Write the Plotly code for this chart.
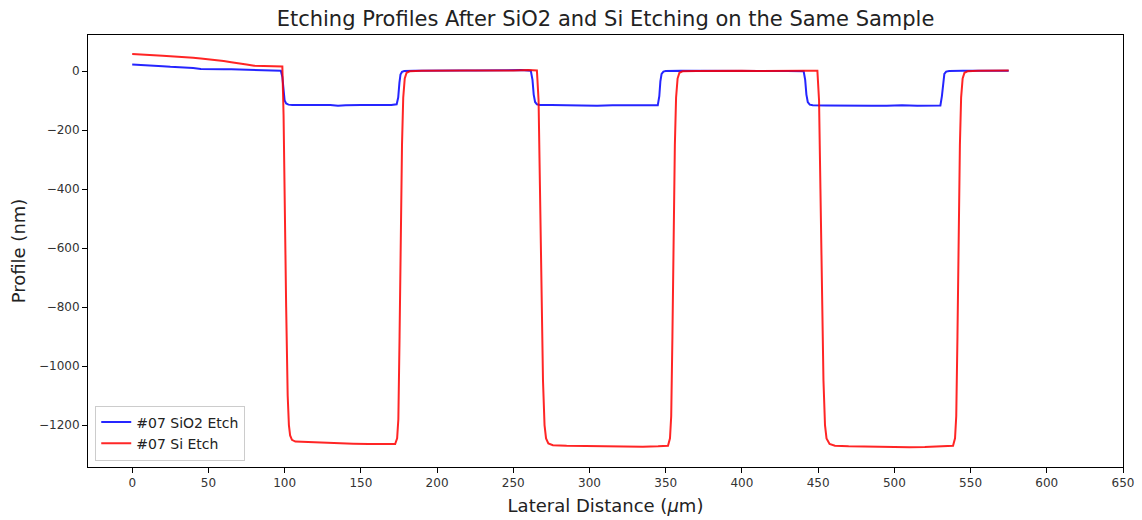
import plotly.graph_objects as go

# ---- Data ----
sio2_x = [0, 5, 10, 15, 20, 25, 30, 35, 40, 45, 50, 55, 60, 65, 70, 75, 80, 85, 90, 95, 97.5,
          98.5, 99.3, 100, 101, 102.5, 105,
          110, 120, 130, 135, 140, 150, 160, 170, 173.5,
          174.5, 175.3, 176, 177, 178.5,
          185, 195, 205, 215, 225, 235, 245, 255, 261.5,
          262.6, 263.4, 264.3, 265.5, 267.5,
          275, 285, 295, 305, 315, 325, 335, 344.8,
          345.8, 346.5, 347.3, 348.5, 350,
          360, 370, 380, 390, 400, 410, 420, 430, 440.5,
          441.5, 442.3, 443.2, 444.5, 446.5,
          455, 465, 475, 485, 495, 505, 515, 525, 530.2,
          531.2, 532, 532.8, 534, 536,
          545, 555, 565, 575]
sio2_y = [22, 21, 19, 17, 16, 14, 13, 11, 10, 7, 6, 7, 6, 6, 5, 5, 4, 3, 3, 2, 1,
          -20, -70, -100, -110, -114, -115,
          -115, -116, -115, -118, -116, -115, -116, -115, -113,
          -90, -40, -12, -3, 0,
          1, 2, 3, 2, 2, 3, 2, 3, 1,
          -30, -80, -105, -113, -115,
          -115, -116, -117, -118, -116, -117, -116, -116,
          -85, -35, -10, -2, 0,
          1, 1, 2, 1, 1, 0, 1, 0, -1,
          -30, -80, -105, -114, -116,
          -117, -118, -119, -118, -118, -116, -118, -118, -117,
          -85, -35, -10, -2, 0,
          1, 0, 1, 1]

si_x = [0, 5, 10, 15, 20, 25, 30, 35, 40, 45, 50, 55, 60, 65, 70, 75, 80, 85, 90, 95, 98.5,
        99.3, 100, 101, 102, 102.8, 103.6, 104.8, 107,
        115, 125, 135, 145, 155, 165, 172.5,
        173.8, 174.6, 175.4, 176.2, 177, 177.8, 178.8, 180, 182,
        190, 200, 210, 220, 230, 240, 250, 260, 265.5,
        266.6, 267.5, 268.5, 269.5, 270.5, 271.5, 273, 276,
        285, 295, 305, 315, 325, 335, 345, 351.5,
        352.8, 353.6, 354.4, 355.2, 356, 356.8, 357.8, 359, 361,
        370, 380, 390, 400, 410, 420, 430, 440, 449.5,
        450.6, 451.5, 452.5, 453.5, 454.5, 455.5, 457.5, 461,
        470, 480, 490, 500, 510, 520, 530, 538.5,
        539.8, 540.6, 541.4, 542.2, 543, 543.8, 544.8, 546, 548,
        555, 565, 575]
si_y = [58, 57, 55, 53, 52, 50, 49, 47, 45, 42, 40, 37, 34, 30, 27, 22, 18, 17, 16, 16, 15,
        -150, -450, -800, -1100, -1200, -1235, -1250, -1256,
        -1258, -1260, -1261, -1263, -1264, -1265, -1264,
        -1245, -1180, -900, -550, -250, -90, -25, -6, -1,
        1, 2, 1, 2, 2, 1, 2, 3, 2,
        -100, -400, -750, -1050, -1200, -1245, -1262, -1268,
        -1270, -1271, -1272, -1273, -1274, -1273, -1272, -1270,
        -1245, -1170, -900, -550, -250, -90, -25, -6, -1,
        0, 1, 0, 1, 0, 1, 0, 1, 1,
        -100, -400, -750, -1050, -1200, -1245, -1264, -1270,
        -1272, -1273, -1274, -1276, -1275, -1274, -1273, -1270,
        -1245, -1170, -900, -550, -250, -90, -25, -6, -1,
        1, 2, 2]

x_ticks = [0, 50, 100, 150, 200, 250, 300, 350, 400, 450, 500, 550, 600, 650]
y_ticks = [0, -200, -400, -600, -800, -1000, -1200]

FONT = "DejaVu Sans"

fig = go.Figure()
fig.add_trace(go.Scatter(x=sio2_x, y=sio2_y, mode="lines", name="#07 SiO2 Etch",
                         line=dict(color="rgb(0,0,255)", width=2), opacity=0.85))
fig.add_trace(go.Scatter(x=si_x, y=si_y, mode="lines", name="#07 Si Etch",
                         line=dict(color="rgb(255,0,0)", width=2), opacity=0.85))

axis_common = dict(showline=True, mirror=True, linecolor="black", linewidth=1,
                   ticks="outside", ticklen=5, tickcolor="black", tickwidth=1,
                   showgrid=False, zeroline=False, automargin=False,
                   tickfont=dict(family=FONT, size=12, color="#333333"))

fig.update_layout(
    width=1142, height=520,
    margin=dict(l=88, r=19, t=35, b=53),
    paper_bgcolor="white", plot_bgcolor="white",
    font=dict(family=FONT, color="#222222"),
    title=dict(text="Etching Profiles After SiO2 and Si Etching on the Same Sample",
               x=(88 + 1123) / 2 / 1142, xanchor="center", y=0.965, yanchor="middle",
               font=dict(family=FONT, size=21, color="#222222")),
    xaxis=dict(range=[-29, 650], tickvals=x_ticks,
               title=dict(text="Lateral Distance (<i>μ</i>m)", standoff=9,
                          font=dict(family=FONT, size=18, color="#222222")),
               **axis_common),
    yaxis=dict(range=[-1342, 122], tickvals=y_ticks,
               title=dict(text="Profile (nm)", standoff=8,
                          font=dict(family=FONT, size=18, color="#222222")),
               **axis_common),
    legend=dict(x=0.007, y=0.015, xanchor="left", yanchor="bottom",
                bgcolor="rgba(255,255,255,0.85)", bordercolor="#cccccc", borderwidth=1,
                font=dict(family=FONT, size=14, color="#222222"),
                tracegroupgap=0, itemwidth=30),
    showlegend=True,
)

fig.write_html("out.html")
